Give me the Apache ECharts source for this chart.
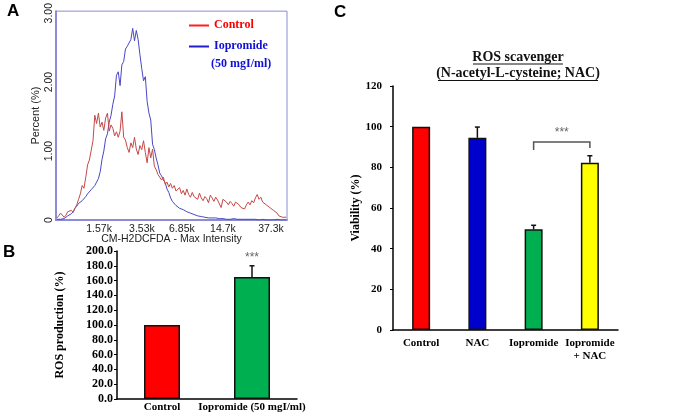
<!DOCTYPE html>
<html><head><meta charset="utf-8">
<script src="https://cdn.jsdelivr.net/npm/echarts@6/dist/echarts.min.js"></script>
<style>html,body{margin:0;padding:0;background:#fff}#c{width:677px;height:416px}</style>
</head><body><div id="c"></div>
<script>
// ---------- Panel A: histogram (Percent per channel bin, 128 bins over 1024 channels)
const controlHist = [
0.03,0.06,0.10,0.08,0.04, 0.07,0.12,0.10,0.14,0.11,
0.17,0.22,0.30,0.38,0.50, 0.46,0.62,0.80,0.87,1.01,
1.15,1.52,1.40,1.55,1.35, 1.42,1.30,1.48,1.55,1.29,
1.38,1.33,1.22,1.28,1.20, 1.29,1.57,1.20,1.16,1.05,
0.98,1.12,1.05,1.20,1.03, 0.95,1.08,1.02,1.15,0.98,
0.83,1.05,0.90,1.03,0.78, 0.73,0.66,0.64,0.58,0.62,
0.52,0.55,0.48,0.53,0.46, 0.50,0.42,0.41,0.47,0.38,
0.43,0.36,0.45,0.37,0.33, 0.40,0.34,0.36,0.30,0.39,
0.32,0.28,0.34,0.31,0.25, 0.36,0.32,0.27,0.33,0.29,
0.30,0.18,0.30,0.28,0.26, 0.22,0.27,0.24,0.20,0.26,
0.24,0.22,0.18,0.20,0.16, 0.22,0.26,0.22,0.28,0.25,
0.32,0.37,0.30,0.33,0.26, 0.28,0.22,0.24,0.18,0.20,
0.14,0.16,0.10,0.06,0.08, 0.04,0.05,0.04
];
const iopromideHist = [
0.01,0.02,0.01,0.03,0.02, 0.04,0.06,0.05,0.09,0.12,
0.17,0.20,0.24,0.22,0.28, 0.30,0.34,0.38,0.36,0.44,
0.42,0.50,0.55,0.60,0.70, 0.88,1.00,1.18,1.25,1.42,
1.52,1.68,1.80,2.10,2.15, 1.95,2.25,2.30,2.48,2.52,
2.50,2.62,2.78,2.60,2.75, 2.62,2.40,2.20,2.02,2.08,
1.72,1.55,1.45,1.10,1.02, 0.90,0.80,0.68,0.64,0.58,
0.54,0.45,0.40,0.32,0.27, 0.25,0.21,0.22,0.17,0.18,
0.15,0.14,0.12,0.13,0.10, 0.11,0.08,0.09,0.06,0.07,
0.05,0.06,0.04,0.05,0.03, 0.04,0.03,0.02,0.03,0.02,
0.02,0.01,0.02,0.02,0.01, 0.02,0.01,0.01,0.02,0.01,
0.01,0.02,0.01,0.01,0.01, 0.02,0.01,0.01,0.01,0.01,
0.01,0.01,0.00,0.01,0.01, 0.01,0.00,0.01,0.00,0.01,
0.00,0.00,0.01,0.00,0.00, 0.00,0.00,0.00
];
const binWidth = 8; // channels per bin
const histTickLabels = ['1.57k','3.53k','6.85k','14.7k','37.3k'];
const histTickChannels = [191, 381, 558, 740, 953];

// ---------- Panel B
const bCategories = ['Control', 'Iopromide (50 mgI/ml)'];
const bValues = [100, 165];
const bErrors = [0, 15];
const bColors = ['#ff0000', '#00b050'];
const bSignif = [[1, 191, '***']];

// ---------- Panel C
const cCategories = ['Control', 'NAC', 'Iopromide', 'Iopromide\n+ NAC'];
const cValues = [100, 94.5, 49.5, 82.3];
const cErrors = [0, 5.3, 2, 3.4];
const cColors = ['#ff0000', '#0000cc', '#00b050', '#ffff00'];
const cBracket = [[2, 3, 92.5, 88.5, 89.5, '***']];

const SERIF = "'Liberation Serif','Times New Roman',serif";
const SANS = "'Liberation Sans',Arial,sans-serif";
const FRAME = '#8c8cd6';

function errorBar(params, api) {
  const x = api.value(0), v = api.value(1), e = api.value(2);
  if (!e) return null;
  const b = api.coord([x, v]), t = api.coord([x, v + e]);
  return { type: 'group', children: [
    { type: 'line', shape: { x1: b[0], y1: b[1], x2: t[0], y2: t[1] }, style: { stroke: '#111', lineWidth: 1.5 } },
    { type: 'line', shape: { x1: t[0] - 2.5, y1: t[1], x2: t[0] + 2.5, y2: t[1] }, style: { stroke: '#111', lineWidth: 1.5 } }
  ]};
}
function sigText(params, api) {
  const p = api.coord([api.value(0), api.value(1)]);
  return { type: 'text', x: p[0], y: p[1], style: { text: '***', fill: '#666', font: '12px ' + SANS,
    align: 'center', verticalAlign: 'middle', textAlign: 'center', textVerticalAlign: 'middle' } };
}
function bracket(params, api) {
  const l = api.value(0), r = api.value(1), top = api.value(2), lb = api.value(3), rb = api.value(4);
  const pl = api.coord([l, top]), pr = api.coord([r, top]);
  const yl = api.coord([l, lb])[1], yr = api.coord([r, rb])[1];
  return { type: 'group', children: [
    { type: 'polyline', shape: { points: [[pl[0], yl], [pl[0], pl[1]], [pr[0], pr[1]], [pr[0], yr]] },
      style: { stroke: '#555', lineWidth: 1.5, fill: null } },
    { type: 'text', x: (pl[0] + pr[0]) / 2, y: pl[1] - 9, style: { text: '***', fill: '#666', font: '12px ' + SANS,
      align: 'center', verticalAlign: 'middle', textAlign: 'center', textVerticalAlign: 'middle' } }
  ]};
}

const chart = echarts.init(document.getElementById('c'), null, { renderer: 'canvas' });
const option = {
  animation: false,
  title: {
    text: 'ROS scavenger\n(N-acetyl-L-cysteine; NAC)', left: 518, top: 49, textAlign: 'center', padding: 0,
    textStyle: { fontFamily: SERIF, fontWeight: 'bold', fontSize: 14, lineHeight: 16, color: '#111' }
  },
  legend: {
    left: 184, top: 13, orient: 'vertical', itemWidth: 20, itemHeight: 14, itemGap: 7, selectedMode: false,
    icon: 'path://M0,6.5 L20,6.5 L20,8.5 L0,8.5 Z M0,0 L0,0.01 M0,14 L0,14.01',
    textStyle: { fontFamily: SERIF, fontWeight: 'bold', fontSize: 12 },
    data: [
      { name: 'Control', textStyle: { color: '#ff0000' }, itemStyle: { color: '#ff2020' } },
      { name: 'Iopromide', textStyle: { color: '#1010d8' }, itemStyle: { color: '#2020d0' } }
    ]
  },
  graphic: [
    { type: 'text', left: 211, top: 58, style: { text: '(50 mgI/ml)', fill: '#1010d8', font: 'bold 12px ' + SERIF } },
    { type: 'text', left: 7, top: 3, style: { text: 'A', fill: '#000', font: 'bold 17px ' + SANS } },
    { type: 'text', left: 3, top: 244, style: { text: 'B', fill: '#000', font: 'bold 17px ' + SANS } },
    { type: 'text', left: 334, top: 4, style: { text: 'C', fill: '#000', font: 'bold 17px ' + SANS } },
    { type: 'line', shape: { x1: 473, y1: 64, x2: 563, y2: 64 }, style: { stroke: '#111', lineWidth: 1 } },
    { type: 'line', shape: { x1: 438, y1: 80.5, x2: 598, y2: 80.5 }, style: { stroke: '#111', lineWidth: 1 } }
  ],
  grid: [
    { left: 56, top: 3, width: 231, height: 217, show: true, borderColor: FRAME, borderWidth: 1 },
    { left: 117, top: 251, width: 180, height: 148 },
    { left: 393, top: 86, width: 225, height: 244 }
  ],
  xAxis: [
    { gridIndex: 0, type: 'value', min: 0, max: 1024,
      name: 'CM-H2DCFDA - Max Intensity', nameLocation: 'middle', nameGap: 14, nameMoveOverlap: false,
      nameTextStyle: { fontFamily: SANS, fontSize: 10.5, color: '#222' },
      axisLine: { lineStyle: { color: FRAME, width: 2 } }, axisTick: { show: false }, splitLine: { show: false },
      axisLabel: { customValues: histTickChannels, fontFamily: SANS, fontSize: 10.5, color: '#222', margin: 4,
        formatter: v => { const i = histTickChannels.indexOf(v); return i >= 0 ? histTickLabels[i] : ''; } } },
    { gridIndex: 1, type: 'category', data: bCategories,
      axisLine: { lineStyle: { color: '#000', width: 1.5 } }, axisTick: { show: false },
      axisLabel: { interval: 0, fontFamily: SERIF, fontWeight: 'bold', fontSize: 11, color: '#000', margin: 3 } },
    { gridIndex: 2, type: 'category', data: cCategories,
      axisLine: { lineStyle: { color: '#000', width: 1.5 } }, axisTick: { show: false },
      axisLabel: { interval: 0, fontFamily: SERIF, fontWeight: 'bold', fontSize: 11, color: '#000', margin: 7, lineHeight: 13 } }
  ],
  yAxis: [
    { gridIndex: 0, type: 'value', min: 0, max: 3.03, interval: 1,
      name: 'Percent (%)', nameLocation: 'middle', nameGap: 15, nameMoveOverlap: false,
      nameTextStyle: { fontFamily: SANS, fontSize: 11, color: '#222' },
      axisLine: { show: true, lineStyle: { color: FRAME, width: 2 } }, axisTick: { show: false }, splitLine: { show: false },
      axisLabel: { rotate: 90, margin: 1, fontFamily: SANS, fontSize: 10.5, color: '#222',
        formatter: v => v === 0 ? '0' : v.toFixed(2) } },
    { gridIndex: 1, type: 'value', min: 0, max: 200, interval: 20,
      name: 'ROS production (%)', nameLocation: 'middle', nameGap: 51, nameMoveOverlap: false,
      nameTextStyle: { fontFamily: SERIF, fontWeight: 'bold', fontSize: 12, color: '#000' },
      axisLine: { show: true, lineStyle: { color: '#000', width: 1.5 } },
      axisTick: { show: true, length: 3, lineStyle: { color: '#000' } }, splitLine: { show: false },
      axisLabel: { margin: 4, fontFamily: SERIF, fontWeight: 'bold', fontSize: 12, color: '#000',
        formatter: v => v.toFixed(1) } },
    { gridIndex: 2, type: 'value', min: 0, max: 120, interval: 20,
      name: 'Viability (%)', nameLocation: 'middle', nameGap: 31, nameMoveOverlap: false,
      nameTextStyle: { fontFamily: SERIF, fontWeight: 'bold', fontSize: 12, color: '#000' },
      axisLine: { show: true, lineStyle: { color: '#000', width: 1.5 } },
      axisTick: { show: true, length: 3, lineStyle: { color: '#000' } }, splitLine: { show: false },
      axisLabel: { margin: 11, fontFamily: SERIF, fontWeight: 'bold', fontSize: 11, color: '#000' } }
  ],
  series: [
    { name: 'Iopromide', type: 'line', xAxisIndex: 0, yAxisIndex: 0, symbol: 'none', showSymbol: false,
      lineStyle: { color: '#4848c4', width: 1 }, itemStyle: { color: '#4848c4' },
      data: iopromideHist.map((v, i) => [i * binWidth + binWidth / 2, v]) },
    { name: 'Control', type: 'line', xAxisIndex: 0, yAxisIndex: 0, symbol: 'none', showSymbol: false,
      lineStyle: { color: '#c44848', width: 1 }, itemStyle: { color: '#c44848' },
      data: controlHist.map((v, i) => [i * binWidth + binWidth / 2, v]) },
    { type: 'bar', xAxisIndex: 1, yAxisIndex: 1, barWidth: 36,
      data: bValues.map((v, i) => ({ value: v, itemStyle: { color: bColors[i], borderColor: '#111', borderWidth: 1.5 } })) },
    { type: 'custom', xAxisIndex: 1, yAxisIndex: 1, renderItem: errorBar, z: 5,
      data: bValues.map((v, i) => [i, v, bErrors[i]]) },
    { type: 'custom', xAxisIndex: 1, yAxisIndex: 1, renderItem: sigText, z: 5, data: bSignif },
    { type: 'bar', xAxisIndex: 2, yAxisIndex: 2, barWidth: 18,
      data: cValues.map((v, i) => ({ value: v, itemStyle: { color: cColors[i], borderColor: '#111', borderWidth: 1.5 } })) },
    { type: 'custom', xAxisIndex: 2, yAxisIndex: 2, renderItem: errorBar, z: 5,
      data: cValues.map((v, i) => [i, v, cErrors[i]]) },
    { type: 'custom', xAxisIndex: 2, yAxisIndex: 2, renderItem: bracket, z: 5, data: cBracket }
  ]
};
chart.setOption(option);
</script></body></html>
